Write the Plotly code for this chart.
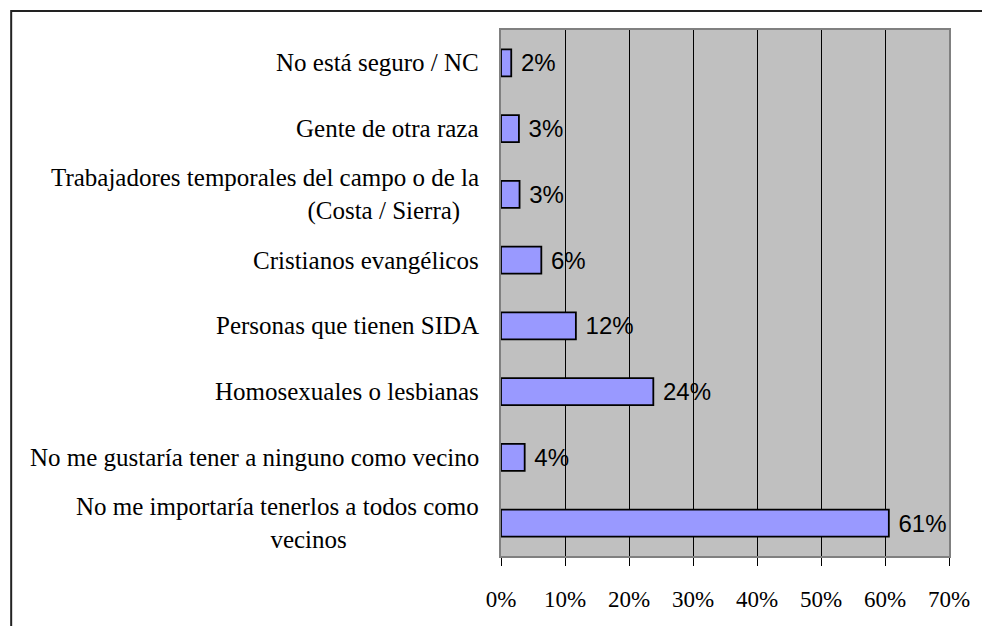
import plotly.graph_objects as go

categories = [
    "No está seguro / NC",
    "Gente de otra raza",
    "Trabajadores temporales del campo o de la<br>(Costa / Sierra)",
    "Cristianos evangélicos",
    "Personas que tienen SIDA",
    "Homosexuales o lesbianas",
    "No me gustaría tener a ninguno como vecino",
    "No me importaría tenerlos a todos como<br>vecinos",
]
values = [0.016, 0.028, 0.029, 0.063, 0.117, 0.238, 0.037, 0.606]
x_ticks = [0, 0.1, 0.2, 0.3, 0.4, 0.5, 0.6, 0.7]

# visual indent (in non-breaking spaces) of wrapped second lines, as in the original
second_line_indent = {2: 38, 7: 10}

W, H = 982, 626
ML, MR, MT, MB = 501, 31, 30, 70
PW, PH = W - ML - MR, H - MT - MB
SERIF = "Liberation Serif"
SANS = "Liberation Sans"

fig = go.Figure()
fig.add_trace(go.Bar(
    y=categories,
    x=values,
    orientation="h",
    marker=dict(color="#9999FF", line=dict(color="#000000", width=1.8)),
    texttemplate="\u00a0%{x:.0%}",
    textposition="outside",
    constraintext="none",
    cliponaxis=False,
    textfont=dict(family=SANS, size=24, color="#000000"),
    hoverinfo="skip",
))

for i, cat in enumerate(categories):
    label = cat
    if i in second_line_indent and "<br>" in cat:
        a, b = cat.split("<br>")
        label = a + "<br>" + "\u00a0" * second_line_indent[i] + b
    fig.add_annotation(
        x=0, xref="paper", xanchor="right", xshift=-20,
        y=cat, yref="y", yanchor="middle",
        text=label, showarrow=False, align="center",
        font=dict(family=SERIF, size=25, color="#000000"),
    )

# outer chart border (extends past right/bottom edges of the image)
fig.add_shape(
    type="rect", xref="paper", yref="paper",
    x0=(9 - ML) / PW, x1=(W + 40 - ML) / PW,
    y0=(MT + PH - (H + 40)) / PH, y1=(MT + PH - 11) / PH,
    line=dict(color="#222222", width=2), fillcolor="rgba(0,0,0,0)", layer="above",
)

fig.update_layout(
    width=W, height=H,
    margin=dict(l=ML, r=MR, t=MT, b=MB, pad=0),
    paper_bgcolor="#FFFFFF",
    plot_bgcolor="#C0C0C0",
    bargap=0.59,
    showlegend=False,
    xaxis=dict(
        range=[0, 0.7], tickvals=x_ticks, tickformat=".0%",
        showgrid=True, gridcolor="#000000", gridwidth=1,
        zeroline=False,
        showline=True, linecolor="#808080", linewidth=2, mirror=True,
        ticks="outside", ticklen=8, tickcolor="#000000", tickwidth=1,
        tickfont=dict(family=SERIF, size=23, color="#000000"),
        ticklabelstandoff=13,
    ),
    yaxis=dict(
        autorange="reversed",
        showticklabels=False, ticks="",
        showgrid=False, zeroline=False,
        showline=True, linecolor="#808080", linewidth=2, mirror=True,
    ),
)

fig.write_html(
    "out.html",
    config={"displayModeBar": False, "staticPlot": True},
    post_script=(
        "document.body.style.margin='0';"
        "document.body.style.overflow='hidden';"
        "document.documentElement.style.overflow='hidden';"
    ),
)
